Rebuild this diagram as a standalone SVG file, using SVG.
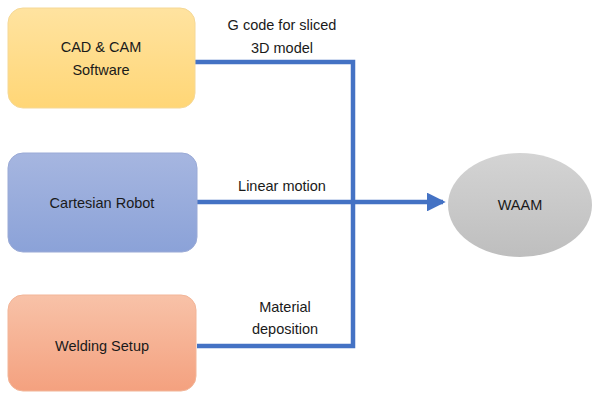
<svg xmlns="http://www.w3.org/2000/svg" width="593" height="394" viewBox="0 0 593 394">
<style>
.lbl{font-family:"Liberation Sans",Arial,sans-serif;font-size:14.5px;fill:#1a1a1a;text-anchor:middle}
.conn{fill:none;stroke:#4472C4;stroke-width:4.5}
</style>
<defs>
<linearGradient id="gy" x1="0" y1="0" x2="0" y2="1"><stop offset="0" stop-color="#FFE3A0"/><stop offset="1" stop-color="#FFD676"/></linearGradient>
<linearGradient id="gb" x1="0" y1="0" x2="0" y2="1"><stop offset="0" stop-color="#A6B6E0"/><stop offset="1" stop-color="#8BA2D8"/></linearGradient>
<linearGradient id="go" x1="0" y1="0" x2="0" y2="1"><stop offset="0" stop-color="#F8C2A8"/><stop offset="1" stop-color="#F4A17F"/></linearGradient>
<linearGradient id="gg" x1="0" y1="0" x2="0" y2="1"><stop offset="0" stop-color="#D4D4D4"/><stop offset="1" stop-color="#BEBEBE"/></linearGradient>
<marker id="ah" markerWidth="4.2" markerHeight="4.2" refX="3.6" refY="2.1" orient="auto" markerUnits="strokeWidth"><path d="M0,0 L4.2,2.1 L0,4.2 Z" fill="#4472C4"/></marker>
</defs>
<rect width="593" height="394" fill="#ffffff"/>
<g id="connectors">
<polyline class="conn" points="190,62 353,62 353,346 197,346"/>
<line class="conn" x1="197" y1="202" x2="443" y2="202" marker-end="url(#ah)"/>
<text class="lbl" x="282" y="30">G code for sliced</text>
<text class="lbl" x="282" y="53">3D model</text>
<text class="lbl" x="282" y="191">Linear motion</text>
<text class="lbl" x="285" y="312">Material</text>
<text class="lbl" x="285" y="334">deposition</text>
</g>
<g id="cad">
<rect x="8" y="8" width="187" height="100" rx="15" fill="url(#gy)" stroke="#F5D896" stroke-width="1"/>
<text class="lbl" x="101" y="52">CAD &amp; CAM</text>
<text class="lbl" x="101" y="75">Software</text>
</g>
<g id="robot">
<rect x="8" y="153" width="189" height="99" rx="15" fill="url(#gb)" stroke="#9AAAD6" stroke-width="1"/>
<text class="lbl" x="102" y="208">Cartesian Robot</text>
</g>
<g id="welding">
<rect x="8" y="295" width="188" height="96" rx="15" fill="url(#go)" stroke="#F2B598" stroke-width="1"/>
<text class="lbl" x="102" y="351">Welding Setup</text>
</g>
<g id="waam">
<ellipse cx="520" cy="205" rx="72" ry="52" fill="url(#gg)"/>
<text class="lbl" x="520" y="210">WAAM</text>
</g>
</svg>
